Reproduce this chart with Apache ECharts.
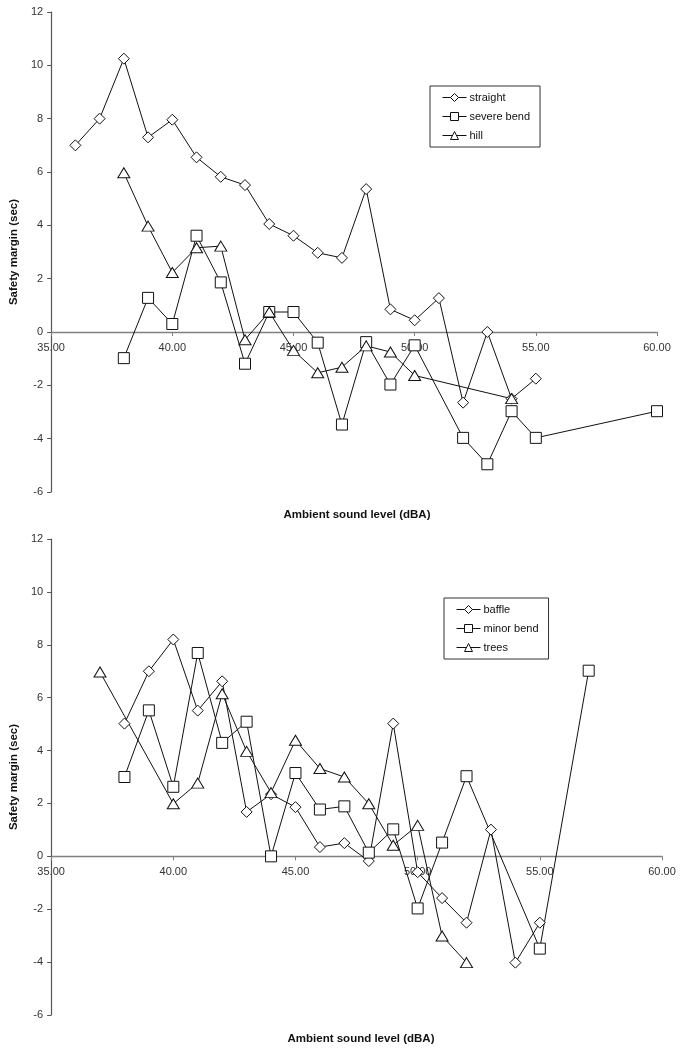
<!DOCTYPE html>
<html>
<head>
<meta charset="utf-8">
<script src="https://cdn.jsdelivr.net/npm/echarts@6/dist/echarts.min.js"></script>
<style>
html,body{margin:0;padding:0;background:#fff;}
#c{width:681px;height:1050px;}
</style>
</head>
<body>
<div id="c"></div>
<script>
// ---- Data (top panel) ----
var straightData = [[36,7.0],[37,8.0],[38,10.25],[39,7.3],[40,7.96],[41,6.55],[42,5.82],[43,5.51],[44,4.05],[45,3.61],[46,2.97],[47,2.78],[48,5.36],[49,0.85],[50,0.44],[51,1.27],[52,-2.65],[53,0.0],[54,-2.5],[55,-1.75]];
var severeBendData = [[38,-0.98],[39,1.28],[40,0.3],[41,3.61],[42,1.86],[43,-1.19],[44,0.75],[45,0.75],[46,-0.4],[47,-3.47],[48,-0.38],[49,-1.97],[50,-0.5],[52,-3.97],[53,-4.96],[54,-2.97],[55,-3.97],[60,-2.97]];
var hillData = [[38,5.97],[39,3.97],[40,2.23],[41,3.16],[42,3.22],[43,-0.29],[44,0.75],[45,-0.69],[46,-1.53],[47,-1.32],[48,-0.52],[49,-0.75],[50,-1.63],[54,-2.5]];
// ---- Data (bottom panel) ----
var baffleData = [[38,5.02],[39,7.0],[40,8.2],[41,5.51],[42,6.62],[43,1.68],[44,2.35],[45,1.86],[46,0.35],[47,0.5],[48,-0.18],[49,5.02],[50,-0.6],[51,-1.58],[52,-2.51],[53,1.01],[54,-4.02],[55,-2.51]];
var minorBendData = [[38,3.0],[39,5.52],[40,2.63],[41,7.69],[42,4.29],[43,5.09],[44,0.0],[45,3.15],[46,1.77],[47,1.89],[48,0.14],[49,1.02],[50,-1.97],[51,0.52],[52,3.03],[55,-3.49],[57,7.02]];
var treesData = [[37,6.97],[40,1.99],[41,2.77],[42,6.15],[43,3.97],[44,2.41],[45,4.39],[46,3.32],[47,3.0],[48,1.99],[49,0.42],[50,1.17],[51,-3.01],[52,-4.02]];

var seriesNamesTop = ['straight','severe bend','hill'];
var seriesNamesBottom = ['baffle','minor bend','trees'];
var xTitle = 'Ambient sound level (dBA)';
var yTitle = 'Safety margin (sec)';

var FONT = '"Liberation Sans", Arial, sans-serif';
var chart = echarts.init(document.getElementById('c'), null, {renderer:'canvas'});

function xAxisCfg(gi, labelMargin){
  return {
    type:'value', gridIndex:gi, min:35, max:60, interval:5,
    axisLine:{show:true, onZero:true, lineStyle:{color:'#808080', width:1.3}},
    axisTick:{show:true, inside:false, length:4, lineStyle:{color:'#808080'}},
    axisLabel:{color:'#333', fontFamily:FONT, fontSize:11, margin:labelMargin,
      formatter:function(v){return v.toFixed(2);}},
    splitLine:{show:false}
  };
}
function yAxisCfg(gi){
  return {
    type:'value', gridIndex:gi, min:-6, max:12, interval:2,
    name: yTitle, nameLocation:'middle', nameGap:28, nameRotate:90,
    nameTextStyle:{fontFamily:FONT, fontSize:11.5, fontWeight:'bold', color:'#111'},
    axisLine:{show:true, onZero:false, lineStyle:{color:'#555', width:1.2}},
    axisTick:{show:true, length:4, lineStyle:{color:'#555'}},
    axisLabel:{color:'#333', fontFamily:FONT, fontSize:11, margin:8},
    splitLine:{show:false}
  };
}
function ser(name, data, sym, size, gi){
  return {
    name:name, type:'line', xAxisIndex:gi, yAxisIndex:gi, data:data,
    symbol:sym, symbolSize:size, showAllSymbol:true,
    lineStyle:{color:'#111', width:1},
    itemStyle:{color:'#fff', borderColor:'#111', borderWidth:1},
    emphasis:{disabled:true}, animation:false, z:3
  };
}
function legendCfg(names, left, top){
  return {
    data:names, orient:'vertical', left:left, top:top,
    itemWidth:24, itemHeight:10, itemGap:8,
    padding:[6,10,6,12], borderColor:'#333', borderWidth:1,
    lineStyle:{width:1, color:'#111'},
    itemStyle:{color:'#fff', borderColor:'#111', borderWidth:1},
    textStyle:{fontFamily:FONT, fontSize:11, color:'#111', padding:[0,0,0,-2]},
    selectedMode:false
  };
}

chart.setOption({
  animation:false,
  backgroundColor:'#fff',
  grid:[
    {left:48, right:24, top:12, bottom:558},
    {left:51, right:19, top:539, bottom:35}
  ],
  xAxis:[xAxisCfg(0, -150), xAxisCfg(1, -149)],
  yAxis:[yAxisCfg(0), yAxisCfg(1)],
  legend:[legendCfg(seriesNamesTop, 430, 86), legendCfg(seriesNamesBottom, 444, 598)],
  title:[
    {text:xTitle, left:352, top:504, textAlign:'center',
     textStyle:{fontFamily:FONT, fontSize:11.5, fontWeight:'bold', color:'#111'}},
    {text:xTitle, left:356, top:1028, textAlign:'center',
     textStyle:{fontFamily:FONT, fontSize:11.5, fontWeight:'bold', color:'#111'}}
  ],
  series:[
    ser(seriesNamesTop[0], straightData, 'diamond', [11,11], 0),
    ser(seriesNamesTop[1], severeBendData, 'rect', [11,11], 0),
    ser(seriesNamesTop[2], hillData, 'triangle', [12,10], 0),
    ser(seriesNamesBottom[0], baffleData, 'diamond', [11,11], 1),
    ser(seriesNamesBottom[1], minorBendData, 'rect', [11,11], 1),
    ser(seriesNamesBottom[2], treesData, 'triangle', [12,10], 1)
  ]
});
</script>
</body>
</html>
